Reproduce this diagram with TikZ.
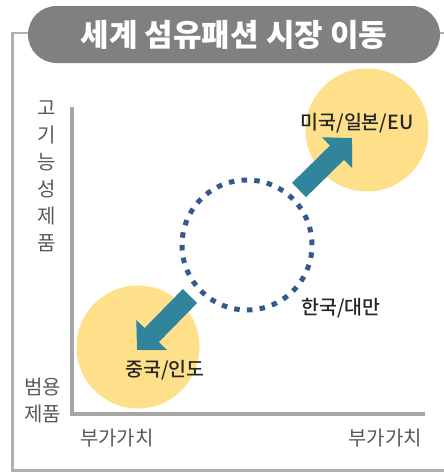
\documentclass[tikz,border=0pt]{standalone}
\usepackage{fontspec}
\setmainfont{Noto Sans CJK KR}
\newfontfamily\medfont{Noto Sans CJK KR Medium}
\usetikzlibrary{arrows.meta}
\usetikzlibrary{positioning}
\definecolor{mgray}{HTML}{808080}
\definecolor{mframe}{HTML}{B0B0B0}
\definecolor{maxis}{HTML}{A6A6A6}
\definecolor{myellow}{HTML}{FFE08A}
\definecolor{mteal}{HTML}{31849B}
\definecolor{mdot}{HTML}{325A8C}
\definecolor{mtext}{HTML}{262626}
\definecolor{mlabel}{HTML}{595959}
\tikzset{market/.style = {fill = myellow, circle, inner sep = 0, minimum size = 123},
  country/.style = {text = mtext, font = \medfont\fontsize{19.5}{21}\selectfont, inner sep = 0},
  axislabel/.style = {text = mlabel, font = \fontsize{20}{27}\selectfont, align = center, inner sep = 0},
  shift arrow/.style = {mteal, line width = 20, -{Triangle[length = 21, width = 42]}}}

\begin{document}
\begin{tikzpicture}[x = 1pt, y = -1pt]
    \useasboundingbox (0, 0) rectangle (444, 472);

    % frame and title
    \draw [mframe, line width = 2.2] (444, 470.5) -- (12.5, 470.5) -- (12.5, 33) -- (40, 33);
    \draw [mframe, line width = 2.2] (430, 33) -- (444, 33);
    \node [fill = mgray, rounded corners = 28.5, minimum width = 412, minimum height = 57,
      text = white, font = \bfseries\fontsize{31}{33}\selectfont] (title) at (234, 34.5)
      {세계 섬유패션 시장 이동};

    % axes
    \draw [maxis, line width = 4] (72, 107) -- (72, 414) -- (425, 414);
    \node [axislabel] (high) at (47, 176.5) {고\\기\\능\\성\\제\\품};
    \node [axislabel] (low) at (43, 401) {범용\\제품};
    \node [axislabel] (vleft) at (117, 438) {부가가치};
    \node [axislabel] (vright) at (385, 438) {부가가치};

    % markets
    \node [market] (upper) at (367, 130) {};
    \node [market] (lower) at (138, 347) {};
    \node [draw = mdot, circle, line width = 5, dash pattern = on 5.5 off 7.26,
      inner sep = 0, minimum size = 130] (middle) at (247, 245) {};

    \coordinate (uptail) at (299, 190);
    \coordinate (uptip) at (352, 138);
    \coordinate (downtail) at (190, 296);
    \coordinate (downtip) at (137, 350);
    \draw [shift arrow] (uptail) -- (uptip);
    \draw [shift arrow] (downtail) -- (downtip);

    \node [country] (west) at (357, 123) {미국/일본/EU};
    \node [country] (east) at (165, 370) {중국/인도};
    \node [country] (mid) at (341, 308) {한국/대만};
  \end{tikzpicture}
\end{document}
